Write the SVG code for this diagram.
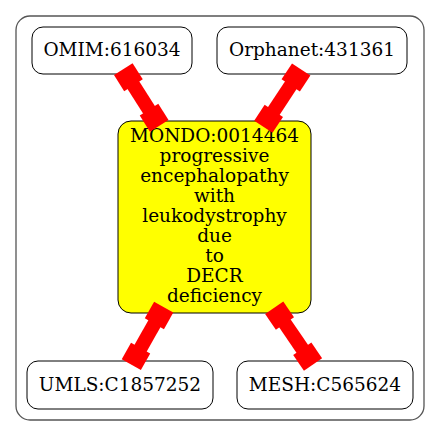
<svg xmlns="http://www.w3.org/2000/svg" width="440" height="436" viewBox="0 0 440 436">
<style>
  .cluster { fill: #ffffff; stroke: #555555; stroke-width: 1.3; }
  .node { fill: #ffffff; stroke: #000000; stroke-width: 1; }
  .main { fill: #ffff00; stroke: #000000; stroke-width: 1; }
  text { font-family: "DejaVu Serif", serif; font-size: 18.5px; fill: #000000; text-anchor: middle; }
  .edge rect { fill: #ff0000; stroke: none; }
</style>
<rect x="0" y="0" width="440" height="436" fill="#ffffff"/>
<g id="cluster">
  <rect class="cluster" x="16" y="16" width="408" height="404" rx="14" ry="14"/>
</g>
<g id="node-omim">
  <rect class="node" x="32" y="27" width="160" height="47" rx="11" ry="11"/>
  <text x="112" y="56">OMIM:616034</text>
</g>
<g id="node-orphanet">
  <rect class="node" x="217" y="27" width="190" height="47" rx="11" ry="11"/>
  <text x="312" y="56">Orphanet:431361</text>
</g>
<g id="node-mondo">
  <rect class="main" x="118" y="121" width="193" height="192" rx="13" ry="13"/>
  <text x="214.5" y="142">MONDO:0014464</text>
  <text x="214.5" y="162">progressive</text>
  <text x="214.5" y="182">encephalopathy</text>
  <text x="214.5" y="202">with</text>
  <text x="214.5" y="222">leukodystrophy</text>
  <text x="214.5" y="242">due</text>
  <text x="214.5" y="262">to</text>
  <text x="214.5" y="282">DECR</text>
  <text x="214.5" y="302">deficiency</text>
</g>
<g id="node-umls">
  <rect class="node" x="27" y="361" width="186" height="48" rx="11" ry="11"/>
  <text x="120" y="391">UMLS:C1857252</text>
</g>
<g id="node-mesh">
  <rect class="node" x="237" y="361" width="176" height="48" rx="11" ry="11"/>
  <text x="325" y="391">MESH:C565624</text>
</g>
<g id="connectors" class="edge">
  <g transform="translate(123.3,69.2) rotate(57.6)">
    <rect x="0" y="-11" width="19" height="22"/>
    <rect x="18" y="-7" width="32" height="14"/>
    <rect x="48" y="-11" width="19" height="22"/>
  </g>
  <g transform="translate(301.2,69.5) rotate(123.5)">
    <rect x="0" y="-11" width="19" height="22"/>
    <rect x="18" y="-7" width="33.6" height="14"/>
    <rect x="49.6" y="-11" width="19" height="22"/>
  </g>
  <g transform="translate(163.7,307.2) rotate(119.4)">
    <rect x="0" y="-11" width="19" height="22"/>
    <rect x="18" y="-7" width="31" height="14"/>
    <rect x="47" y="-11" width="19" height="22"/>
  </g>
  <g transform="translate(274.2,307.8) rotate(55.6)">
    <rect x="0" y="-11" width="19" height="22"/>
    <rect x="18" y="-7" width="33.7" height="14"/>
    <rect x="49.7" y="-11" width="19" height="22"/>
  </g>
</g>
</svg>
